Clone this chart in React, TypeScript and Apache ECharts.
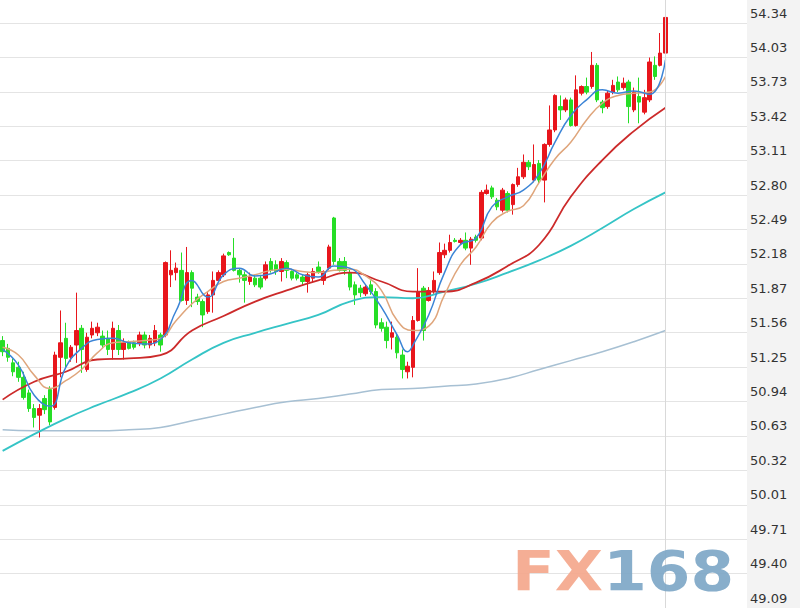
import React, { useEffect, useRef } from "react";
import * as echarts from "echarts";

// [open, close, low, high]
const candles: number[][] = [
  [51.49, 51.39, 51.35, 51.53],
  [51.42, 51.34, 51.30, 51.46],
  [51.29, 51.21, 51.17, 51.33],
  [51.25, 51.16, 51.12, 51.30],
  [51.16, 50.98, 50.96, 51.21],
  [51.02, 50.88, 50.85, 51.05],
  [50.88, 50.80, 50.71, 50.92],
  [50.82, 50.88, 50.62, 50.92],
  [50.97, 50.87, 50.83, 51.00],
  [51.05, 50.76, 50.73, 51.08],
  [50.89, 51.36, 50.87, 51.39],
  [51.34, 51.47, 51.16, 51.76],
  [51.51, 51.33, 51.25, 51.65],
  [51.34, 51.43, 51.30, 51.45],
  [51.45, 51.58, 51.29, 51.92],
  [51.60, 51.41, 51.20, 51.63],
  [51.23, 51.52, 51.21, 51.56],
  [51.54, 51.60, 51.51, 51.66],
  [51.56, 51.61, 51.53, 51.65],
  [51.53, 51.45, 51.42, 51.58],
  [51.51, 51.41, 51.36, 51.58],
  [51.41, 51.60, 51.32, 51.66],
  [51.58, 51.41, 51.36, 51.63],
  [51.41, 51.47, 51.32, 51.51],
  [51.47, 51.42, 51.41, 51.49],
  [51.47, 51.43, 51.41, 51.49],
  [51.47, 51.54, 51.44, 51.57],
  [51.54, 51.45, 51.42, 51.57],
  [51.45, 51.51, 51.42, 51.54],
  [51.47, 51.58, 51.44, 51.63],
  [51.54, 51.45, 51.39, 51.56],
  [51.54, 52.19, 51.52, 52.20],
  [52.08, 52.12, 51.97, 52.30],
  [52.10, 52.14, 52.03, 52.19],
  [52.12, 51.85, 51.84, 52.28],
  [51.85, 52.10, 51.81, 52.33],
  [52.10, 51.96, 51.79, 52.12],
  [51.88, 51.84, 51.81, 51.91],
  [51.84, 51.72, 51.61, 51.86],
  [51.75, 51.90, 51.73, 51.93],
  [51.90, 52.03, 51.74, 52.11],
  [52.03, 52.10, 52.02, 52.12],
  [52.08, 52.25, 52.06, 52.27],
  [52.28, 52.26, 52.25, 52.29],
  [52.23, 52.12, 52.11, 52.41],
  [52.12, 52.08, 52.01, 52.14],
  [52.08, 52.03, 51.83, 52.11],
  [52.02, 52.06, 51.99, 52.10],
  [52.05, 51.99, 51.97, 52.08],
  [52.05, 51.97, 51.95, 52.08],
  [52.05, 52.17, 52.03, 52.20],
  [52.20, 52.12, 52.10, 52.23],
  [52.17, 52.11, 52.08, 52.21],
  [52.11, 52.20, 52.02, 52.23],
  [52.19, 52.12, 52.05, 52.21],
  [52.11, 52.05, 52.03, 52.12],
  [52.08, 52.05, 52.03, 52.10],
  [52.06, 52.02, 51.99, 52.08],
  [52.02, 52.08, 51.92, 52.10],
  [52.05, 52.11, 52.01, 52.14],
  [52.15, 52.11, 52.09, 52.20],
  [52.03, 52.11, 51.99, 52.12],
  [52.14, 52.33, 52.12, 52.35],
  [52.59, 52.20, 52.17, 52.60],
  [52.20, 52.12, 52.11, 52.23],
  [52.20, 52.12, 52.08, 52.24],
  [52.10, 51.97, 51.94, 52.14],
  [51.99, 51.90, 51.81, 52.02],
  [51.96, 51.92, 51.88, 51.99],
  [51.91, 51.97, 51.89, 51.99],
  [51.99, 51.93, 51.90, 52.03],
  [51.93, 51.63, 51.60, 51.96],
  [51.65, 51.60, 51.57, 51.69],
  [51.61, 51.49, 51.42, 51.66],
  [51.52, 51.56, 51.41, 51.66],
  [51.52, 51.38, 51.33, 51.55],
  [51.36, 51.23, 51.15, 51.41],
  [51.21, 51.26, 51.15, 51.30],
  [51.25, 51.67, 51.16, 51.71],
  [51.67, 51.93, 51.66, 52.14],
  [51.96, 51.58, 51.49, 51.98],
  [51.85, 51.94, 51.84, 51.97],
  [51.93, 52.03, 51.91, 52.11],
  [52.10, 52.28, 52.08, 52.37],
  [52.26, 52.30, 52.23, 52.36],
  [52.30, 52.37, 52.28, 52.44],
  [52.39, 52.38, 52.37, 52.41],
  [52.37, 52.39, 52.35, 52.41],
  [52.39, 52.32, 52.30, 52.46],
  [52.32, 52.40, 52.17, 52.42],
  [52.42, 52.39, 52.37, 52.44],
  [52.41, 52.82, 52.39, 52.84],
  [52.81, 52.84, 52.80, 52.89],
  [52.86, 52.78, 52.76, 52.88],
  [52.75, 52.69, 52.66, 52.77],
  [52.66, 52.84, 52.64, 52.86],
  [52.81, 52.66, 52.64, 52.83],
  [52.71, 52.89, 52.62, 52.90],
  [52.89, 52.96, 52.87, 53.04],
  [52.96, 53.09, 52.94, 53.16],
  [53.09, 53.05, 53.02, 53.11],
  [52.93, 53.07, 52.91, 53.25],
  [53.08, 52.93, 52.90, 53.11],
  [52.93, 53.25, 52.73, 53.26],
  [53.25, 53.38, 53.23, 53.60],
  [53.38, 53.69, 53.36, 53.70],
  [53.59, 53.56, 53.47, 53.69],
  [53.56, 53.65, 53.54, 53.67],
  [53.65, 53.42, 53.41, 53.67],
  [53.42, 53.74, 53.41, 53.87],
  [53.71, 53.77, 53.69, 53.78],
  [53.77, 53.72, 53.70, 53.85],
  [53.77, 53.96, 53.75, 54.08],
  [53.96, 53.65, 53.63, 53.98],
  [53.63, 53.58, 53.53, 53.65],
  [53.59, 53.71, 53.57, 53.73],
  [53.72, 53.78, 53.70, 53.83],
  [53.81, 53.74, 53.72, 53.86],
  [53.76, 53.80, 53.74, 53.85],
  [53.81, 53.59, 53.44, 53.83],
  [53.56, 53.72, 53.54, 53.76],
  [53.68, 53.63, 53.44, 53.85],
  [53.54, 53.67, 53.52, 53.74],
  [53.65, 53.99, 53.63, 54.03],
  [53.96, 53.86, 53.83, 54.04],
  [53.96, 54.07, 53.95, 54.25],
  [54.07, 54.39, 54.05, 54.40],
];

// moving averages: [candle index, value]
const ma5: number[][] = [
  [0, 51.41], [3, 51.27], [6, 51.0], [9, 50.9], [12, 51.25], [15, 51.42], [18, 51.5], [21, 51.51],
  [24, 51.47], [27, 51.46], [30, 51.5], [33, 51.76], [36, 52.03], [39, 51.88], [42, 52.08], [45, 52.14],
  [48, 52.07], [51, 52.09], [54, 52.14], [57, 52.08], [60, 52.06], [63, 52.16], [66, 52.14], [69, 51.99],
  [72, 51.79], [75, 51.54], [77, 51.39], [78, 51.45], [81, 51.72], [84, 52.1], [87, 52.35], [90, 52.41],
  [93, 52.69], [96, 52.78], [99, 52.84], [102, 52.99], [105, 53.27], [108, 53.51], [111, 53.65],
  [114, 53.74], [117, 53.71], [120, 53.73], [123, 53.7], [126, 54.01],
];
const ma10: number[][] = [
  [0, 51.43], [3, 51.36], [6, 51.18], [9, 51.06], [12, 51.13], [15, 51.23], [18, 51.38], [21, 51.47],
  [24, 51.48], [27, 51.49], [30, 51.51], [33, 51.67], [36, 51.82], [39, 51.93], [42, 52.02], [45, 52.05],
  [48, 52.08], [51, 52.12], [54, 52.13], [57, 52.11], [60, 52.1], [63, 52.12], [66, 52.13], [69, 52.07],
  [72, 51.94], [75, 51.67], [78, 51.58], [81, 51.62], [84, 51.9], [87, 52.17], [90, 52.33], [93, 52.55],
  [96, 52.65], [99, 52.7], [102, 52.91], [105, 53.12], [108, 53.27], [111, 53.47], [114, 53.62],
  [117, 53.69], [120, 53.71], [123, 53.72], [126, 53.86],
];
const ma20: number[][] = [
  [0, 50.96], [6, 51.12], [12, 51.21], [18, 51.32], [24, 51.33], [30, 51.36], [36, 51.58], [42, 51.71],
  [48, 51.84], [54, 51.94], [60, 52.03], [66, 52.1], [72, 52.02], [78, 51.93], [84, 51.93], [90, 52.01],
  [96, 52.16], [102, 52.35], [108, 52.78], [114, 53.11], [120, 53.37], [126, 53.58],
];
const ma60: number[][] = [
  [0, 50.5], [6, 50.65], [12, 50.79], [18, 50.91], [24, 51.02], [30, 51.15], [36, 51.32], [42, 51.47],
  [48, 51.56], [54, 51.64], [60, 51.72], [66, 51.84], [72, 51.88], [78, 51.87], [84, 51.93], [90, 52.0],
  [96, 52.1], [102, 52.21], [108, 52.34], [114, 52.5], [120, 52.67], [126, 52.82],
];
const ma120: number[][] = [
  [0, 50.69], [6, 50.68], [12, 50.68], [18, 50.68], [24, 50.69], [30, 50.71], [36, 50.77], [42, 50.83],
  [48, 50.89], [54, 50.94], [60, 50.97], [66, 51.01], [72, 51.05], [78, 51.06], [84, 51.08], [90, 51.1],
  [96, 51.15], [102, 51.23], [108, 51.31], [114, 51.39], [120, 51.48], [126, 51.58],
];

// tick labels, bottom to top
const yLabels = [
  "49.09", "49.40", "49.71", "50.01", "50.32", "50.63", "50.94", "51.25", "51.56",
  "51.87", "52.18", "52.49", "52.80", "53.11", "53.42", "53.73", "54.03", "54.34",
];
const Y_MIN = 49.09;
const Y_STEP = 0.30882;
const Y_MAX = 54.54636;

const TOTAL_SLOTS = 142;
const categories = Array.from({ length: TOTAL_SLOTS }, (_, i) => String(i + 1));

const UP = "#e8161c";
const DOWN = "#26de26";

export default function App() {
  const ref = useRef<HTMLDivElement>(null);
  useEffect(() => {
    if (!ref.current) return;
    const chart = echarts.init(ref.current, undefined, { renderer: "svg" });
    const maLine = (name: string, data: number[][], color: string, width: number) => ({
      name,
      type: "line",
      data,
      smooth: true,
      connectNulls: true,
      showSymbol: false,
      symbol: "none",
      z: 3,
      lineStyle: { color, width },
      silent: true,
    });
    chart.setOption({
      animation: false,
      backgroundColor: "#ffffff",
      grid: { left: 0, right: 53, top: 0, bottom: 0 },
      xAxis: {
        type: "category",
        data: categories,
        boundaryGap: true,
        axisLine: { show: false },
        axisTick: { show: false },
        axisLabel: { show: false },
        splitLine: { show: false },
      },
      yAxis: {
        type: "value",
        position: "right",
        min: Y_MIN,
        max: Y_MAX,
        interval: Y_STEP,
        axisLine: { show: false },
        axisTick: { show: false },
        splitLine: {
          show: true,
          showMinLine: false,
          showMaxLine: false,
          lineStyle: { color: "#e4e4e4", width: 1 },
        },
        axisLabel: {
          show: true,
          margin: 3,
          align: "left",
          verticalAlign: "bottom",
          lineHeight: 20,
          color: "#333333",
          fontFamily: "DejaVu Sans",
          fontSize: 13,
          showMaxLabel: false,
          formatter: (v: number) => {
            const k = Math.round((v - Y_MIN) / Y_STEP);
            if (Math.abs(v - (Y_MIN + k * Y_STEP)) > 0.01) return "";
            return yLabels[k] ?? "";
          },
        },
      },
      graphic: [
        {
          type: "rect",
          z: -10,
          shape: { x: 747, y: 0, width: 53, height: 608 },
          style: { fill: "#f3f3f3" },
          silent: true,
        },
        {
          type: "text",
          z: 100,
          x: 512,
          y: 543,
          scaleX: 1.14,
          silent: true,
          style: {
            text: "{a|FX}{b|168}",
            opacity: 0.9,
            rich: {
              a: { fill: "#f4a58a", fontSize: 55, fontWeight: "bold", fontFamily: "DejaVu Sans", lineHeight: 55 },
              b: { fill: "#7ba5c5", fontSize: 55, fontWeight: "bold", fontFamily: "DejaVu Sans", lineHeight: 55 },
            },
          },
        },
      ],
      series: [
        {
          name: "K",
          type: "candlestick",
          data: candles,
          barWidth: 4,
          clip: false,
          z: 2,
          itemStyle: {
            color: UP,
            color0: DOWN,
            borderColor: UP,
            borderColor0: DOWN,
            borderWidth: 1,
          },
          markLine: {
            silent: true,
            symbol: ["none", "none"],
            label: { show: false },
            lineStyle: { color: "#d9d9d9", type: "solid", width: 1 },
            data: [{ xAxis: candles.length - 1 }],
          },
        },
        maLine("MA120", ma120, "#a7c0d3", 1.5),
        maLine("MA60", ma60, "#35c4c6", 1.8),
        maLine("MA20", ma20, "#cc2a2a", 1.8),
        maLine("MA10", ma10, "#dfa57b", 1.5),
        maLine("MA5", ma5, "#3b84d6", 1.5),
      ],
    });
    return () => chart.dispose();
  }, []);
  return (
    <div
      ref={ref}
      style={{ position: "absolute", left: 0, top: 0, width: 800, height: 608 }}
    />
  );
}
